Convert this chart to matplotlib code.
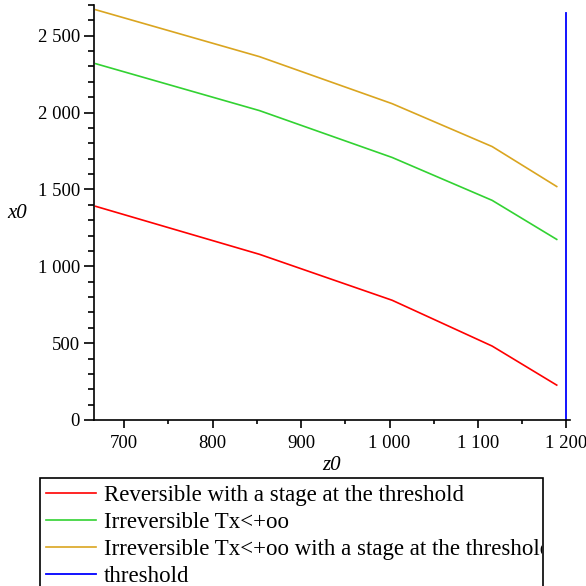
import matplotlib
matplotlib.use("Agg")
import matplotlib.pyplot as plt
from matplotlib.ticker import FuncFormatter, MultipleLocator
from matplotlib.patches import Rectangle
from matplotlib.transforms import Bbox, TransformedBbox

plt.rcParams['font.family'] = ['Liberation Serif', 'DejaVu Serif']

# data
z0 = [668, 853, 1003, 1116, 1189]
x0_reversible = [1390, 1078, 779, 481, 227]
x0_irreversible = [2318, 2013, 1708, 1429, 1175]
x0_irr_stage = [2669, 2364, 2058, 1779, 1519]
threshold_z = [1200, 1200]
threshold_x = [0, 2645]

labels = ["Reversible with a stage at the threshold",
          "Irreversible Tx<+oo",
          "Irreversible Tx<+oo with a stage at the threshold",
          "threshold"]
colors = ["#FF0000", "#32D232", "#DAA520", "#0000FF"]

W = H = 586
fig = plt.figure(figsize=(5.86, 5.86), dpi=100)
ax = fig.add_axes([94 / W, 1 - 420 / H, (570 - 94) / W, (420 - 5) / H])

lines = []
for ys, c in zip([x0_reversible, x0_irreversible, x0_irr_stage], colors[:3]):
    l, = ax.plot(z0, ys, color=c, lw=1.2)
    lines.append(l)
l, = ax.plot(threshold_z, threshold_x, color=colors[3], lw=1.3)
lines.append(l)

ax.set_xlim(666, 1204)
ax.set_ylim(0, 2700)

for s in ["top", "right"]:
    ax.spines[s].set_visible(False)
for s in ["left", "bottom"]:
    ax.spines[s].set_linewidth(1.2)

fmt = FuncFormatter(lambda v, p: f"{int(round(v)):,}".replace(",", " "))
ax.xaxis.set_major_locator(MultipleLocator(100))
ax.xaxis.set_minor_locator(MultipleLocator(50))
ax.yaxis.set_major_locator(MultipleLocator(500))
ax.yaxis.set_minor_locator(MultipleLocator(100))
ax.xaxis.set_major_formatter(fmt)
ax.yaxis.set_major_formatter(fmt)
ax.tick_params(axis="both", which="major", labelsize=13.5, width=1.2, direction="out")
ax.tick_params(axis="y", which="major", length=7, pad=3)
ax.tick_params(axis="y", which="minor", length=4.5, width=1.2)
ax.tick_params(axis="x", which="major", length=6, pad=5)
ax.tick_params(axis="x", which="minor", length=3, width=1.2)

fig.text(332 / W, 1 - 465 / H, "z0", fontsize=15, style="italic", ha="center", va="center")
fig.text(17 / W, 1 - 213 / H, "x0", fontsize=15, style="italic", ha="center", va="center")

# legend box (runs past the bottom of the figure, text clipped at the right)
fig.patches.append(Rectangle((40 / W, -0.05), (543 - 40) / W, 0.05 + 1 - 478 / H,
                             transform=fig.transFigure, fill=False, ec="black", lw=1.2))
leg = fig.legend(lines, labels, loc="upper left", bbox_to_anchor=(41 / W, 1 - 480 / H),
                 frameon=False, fontsize=16.5, handlelength=2.2, handletextpad=0.35,
                 labelspacing=0.26, borderpad=0.2, borderaxespad=0)
clip = TransformedBbox(Bbox([[40 / W, 0], [542 / W, 1]]), fig.transFigure)
for t in leg.get_texts():
    t.set_clip_box(clip)
    t.set_clip_on(True)

fig.savefig("out.png", dpi=100)
